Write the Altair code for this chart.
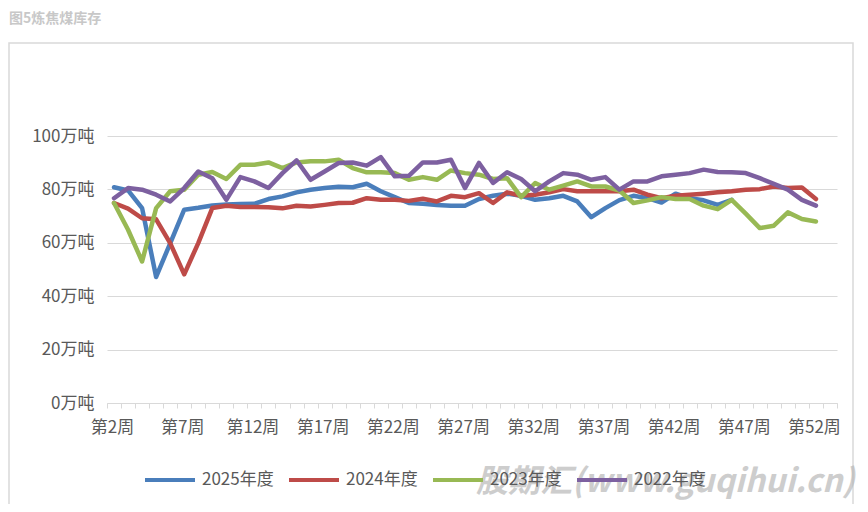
import altair as alt
import pandas as pd

# ---- data (万吨, by week) ----
series_names = ["2025年度", "2024年度", "2023年度", "2022年度"]
series_colors = ["#4A7EBB", "#BE4B48", "#98B954", "#7D60A0"]
first_week = 2

# 2025: weeks 2..46
s2025 = [80.8, 79.6, 73.0, 47.2, 59.8, 72.4, 73.1, 74.0, 74.3, 74.5,
         74.6, 76.4, 77.4, 78.9, 79.9, 80.5, 81.0, 80.8, 82.1, 79.3,
         77.1, 74.9, 74.6, 74.2, 73.9, 73.9, 76.4, 77.6, 78.4, 77.6,
         76.1, 76.7, 77.6, 75.5, 69.6, 73.0, 76.0, 77.6, 76.7, 75.1,
         78.4, 76.7, 75.9, 74.2, 76.1]
# 2024: weeks 2..52
s2024 = [74.9, 72.8, 69.2, 68.8, 59.9, 48.2, 59.9, 73.0, 73.9, 73.4,
         73.4, 73.3, 72.9, 73.9, 73.6, 74.2, 74.9, 75.0, 76.7, 76.1,
         76.1, 75.7, 76.5, 75.5, 77.6, 77.1, 78.6, 74.9, 78.9, 77.6,
         78.0, 78.9, 80.1, 79.3, 79.3, 79.3, 79.3, 79.9, 78.0, 76.7,
         77.6, 78.0, 78.4, 78.9, 79.3, 79.9, 80.1, 81.1, 80.5, 80.7, 76.4]
# 2023: weeks 2..52
s2023 = [74.9, 64.9, 53.0, 73.0, 79.3, 79.9, 85.5, 86.5, 83.9, 89.2,
         89.2, 90.1, 88.0, 90.1, 90.5, 90.5, 91.1, 88.0, 86.4, 86.4,
         86.1, 83.6, 84.6, 83.6, 87.1, 86.1, 85.5, 83.9, 84.2, 77.1,
         82.4, 79.9, 81.4, 83.0, 81.1, 81.1, 79.6, 74.9, 75.9, 77.1,
         76.4, 76.4, 73.9, 72.6, 76.1, 70.9, 65.5, 66.4, 71.4, 68.9, 68.0]
# 2022: weeks 2..52
s2022 = [76.7, 80.5, 79.9, 78.0, 75.5, 80.5, 86.7, 84.2, 76.1, 84.6,
         83.0, 80.5, 86.1, 90.9, 83.6, 86.7, 89.9, 90.1, 88.9, 92.1,
         84.9, 85.1, 90.1, 90.1, 91.1, 80.5, 89.9, 82.4, 86.4, 83.9,
         79.3, 83.0, 86.1, 85.5, 83.6, 84.6, 79.9, 83.0, 83.0, 84.9,
         85.5, 86.1, 87.4, 86.5, 86.4, 86.1, 84.2, 82.1, 79.9, 76.1, 73.9]

week_min, week_max = 2, 53          # category axis 第2周..第53周
y_ticks = [0, 20, 40, 60, 80, 100]
title_text = "图5炼焦煤库存"
watermark_text = "股期汇(www.guqihui.cn)"

rows = []
for name, vals in zip(series_names, [s2025, s2024, s2023, s2022]):
    for i, v in enumerate(vals):
        rows.append({"series": name, "week": first_week + i, "value": v})
df = pd.DataFrame(rows)

FONT = "Noto Sans CJK SC"
GRAY = "#595959"
GRID = "#d9d9d9"

boundaries = [week_min - 0.5 + i for i in range(week_max - week_min + 2)]

x_enc = alt.X(
    "week:Q",
    scale=alt.Scale(domain=[week_min - 0.5, week_max + 0.5], nice=False, zero=False),
    axis=alt.Axis(
        values=boundaries,
        labelExpr="(datum.value - 1.5) % 5 == 0 ? '第' + (datum.value + 0.5) + '周' : ''",
        labelOffset=5, labelOverlap=False, labelFlush=False, labelBound=False,
        grid=False, tickSize=5, tickColor=GRID, domainColor=GRID,
        labelFontSize=17, labelColor=GRAY, labelFont=FONT, labelPadding=11,
        title=None,
    ),
)
y_enc = alt.Y(
    "value:Q",
    scale=alt.Scale(domain=[0, 100], nice=False),
    axis=alt.Axis(
        values=y_ticks, labelExpr="datum.value + '万吨'",
        domain=False, ticks=False, gridColor=GRID,
        labelFontSize=17, labelColor=GRAY, labelFont=FONT, labelPadding=13,
        title=None,
    ),
)
color_enc = alt.Color(
    "series:N",
    scale=alt.Scale(domain=series_names, range=series_colors),
    legend=alt.Legend(
        title=None, orient="none", legendX=36, legendY=317,
        direction="horizontal", columns=4,
        symbolType="stroke", symbolSize=2500, symbolStrokeWidth=4,
        labelFontSize=17, labelColor=GRAY, labelFont=FONT,
        labelOffset=5, columnPadding=7,
    ),
)

one = pd.DataFrame({"k": [0]})

frame = alt.Chart(one).mark_rect(fill=None, stroke="#d9d9d9", strokeWidth=1.5).encode(
    x=alt.value(-98), x2=alt.value(746), y=alt.value(-93), y2=alt.value(380)
)

line_layers = []
for name in series_names:
    line_layers.append(
        alt.Chart(df)
        .transform_filter(alt.datum.series == name)
        .mark_line(strokeWidth=4.5, strokeCap="round", strokeJoin="round")
        .encode(x=x_enc, y=y_enc, color=color_enc)
    )

title = alt.Chart(one).mark_text(
    text=title_text, align="left", baseline="middle", fontSize=14,
    fontWeight="bold", color="#c8c8c8", font=FONT,
).encode(x=alt.value(-98), y=alt.value(-117))

watermark = alt.Chart(one).mark_text(
    text=watermark_text, align="left", baseline="middle", fontSize=32,
    fontWeight="bold", fontStyle="italic", color="#b8b8b8", opacity=0.7, font=FONT,
).encode(x=alt.value(369), y=alt.value(346))

chart = (
    alt.layer(frame, *line_layers, title, watermark)
    .properties(
        width=730, height=267,
        autosize=alt.AutoSizeParams(type="none"),
        padding={"left": 99, "top": 128, "right": 23, "bottom": 101},
    )
    .configure(font=FONT)
    .configure_view(stroke=None)
)

chart.save("out.html", embed_options={"renderer": "svg", "actions": False})
